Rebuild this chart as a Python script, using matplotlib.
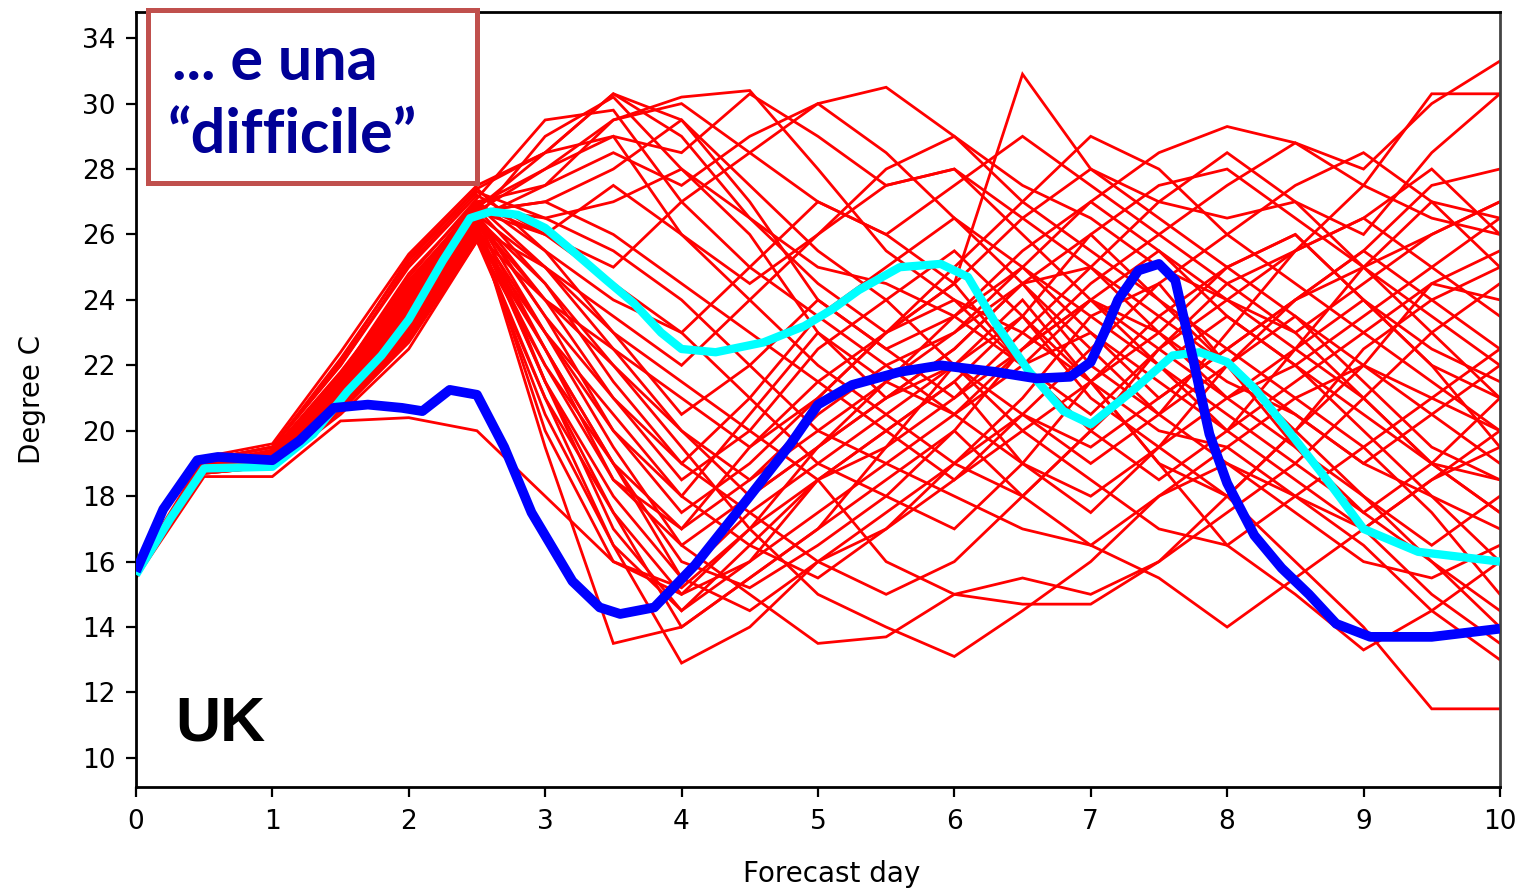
import matplotlib.pyplot as plt
from matplotlib.patches import Rectangle

# ----------------------------
# Data
# ----------------------------
# ensemble members are stored every 12 h (0, 0.5, ... 10 days)
days = [i * 0.5 for i in range(21)]

members = [
    [15.7, 19.0, 19.3, 21.5, 24.0, 26.8, 28.5, 30.3, 29.5, 27.0, 24.0, 22.5, 23.5, 25.0, 27.0, 28.5, 29.3, 28.8, 28.0, 30.0, 31.3],
    [15.6, 18.8, 19.1, 21.0, 23.5, 26.5, 29.0, 30.2, 28.0, 26.0, 23.0, 21.0, 22.5, 24.5, 22.0, 20.5, 23.0, 25.5, 27.5, 30.3, 30.3],
    [15.7, 18.9, 19.4, 21.8, 24.5, 27.0, 27.5, 29.5, 30.2, 30.4, 28.0, 25.5, 24.0, 23.0, 21.5, 23.0, 25.0, 26.0, 24.0, 22.0, 21.0],
    [15.8, 19.1, 19.5, 22.0, 25.0, 27.2, 26.0, 25.0, 27.0, 28.5, 30.0, 30.5, 29.0, 27.5, 26.5, 25.0, 24.0, 25.5, 26.5, 28.0, 26.0],
    [15.6, 18.7, 18.9, 20.5, 22.5, 25.8, 22.0, 19.0, 16.0, 15.2, 16.5, 18.0, 20.0, 22.5, 24.0, 23.0, 21.0, 19.5, 18.0, 16.0, 14.5],
    [15.7, 18.9, 19.2, 21.2, 23.8, 26.2, 21.5, 17.0, 14.5, 16.0, 18.5, 20.0, 21.5, 19.0, 17.5, 19.5, 22.0, 24.0, 25.0, 27.0, 26.5],
    [15.7, 19.0, 19.3, 21.4, 24.2, 26.6, 23.5, 20.0, 17.5, 19.0, 21.0, 23.0, 24.5, 30.9, 28.0, 27.0, 26.5, 27.0, 25.0, 23.5, 22.0],
    [15.6, 18.8, 19.0, 20.8, 23.0, 26.0, 21.0, 16.5, 12.9, 14.0, 16.0, 17.5, 19.0, 21.0, 23.5, 22.0, 20.0, 18.5, 17.0, 15.0, 13.5],
    [15.7, 18.9, 19.1, 21.0, 23.2, 26.3, 19.5, 13.5, 14.0, 15.5, 17.0, 19.5, 22.0, 24.0, 21.5, 19.0, 18.0, 20.0, 22.5, 24.0, 25.0],
    [15.5, 18.6, 18.6, 20.3, 20.4, 20.0, 18.0, 16.0, 15.0, 17.0, 19.5, 21.0, 22.5, 24.5, 25.0, 23.0, 21.5, 20.5, 19.0, 18.0, 17.0],
    [15.7, 19.0, 19.4, 21.6, 24.6, 26.9, 28.0, 29.0, 26.0, 24.0, 22.0, 20.5, 19.0, 18.0, 20.0, 22.5, 24.0, 23.0, 21.0, 19.0, 18.5],
    [15.6, 18.8, 19.1, 21.1, 23.6, 26.4, 24.0, 22.0, 19.5, 17.0, 15.0, 14.0, 13.1, 14.5, 16.0, 18.0, 19.0, 17.5, 16.0, 15.5, 16.5],
    [15.7, 19.1, 19.5, 22.2, 25.2, 27.4, 25.5, 23.0, 21.5, 20.0, 18.5, 20.0, 21.5, 23.5, 26.0, 27.5, 28.0, 26.5, 25.0, 23.0, 21.0],
    [15.7, 18.9, 19.2, 21.3, 24.0, 26.7, 27.0, 28.0, 29.5, 27.5, 25.5, 24.0, 22.0, 20.0, 18.5, 17.0, 16.5, 18.0, 19.5, 21.0, 22.5],
    [15.6, 18.8, 19.0, 20.9, 23.1, 26.1, 22.5, 18.5, 16.5, 15.0, 13.5, 13.7, 15.0, 15.5, 15.0, 16.0, 17.5, 19.0, 21.0, 23.0, 24.5],
    [15.7, 19.0, 19.3, 21.5, 24.3, 26.8, 24.5, 21.5, 19.0, 21.0, 23.5, 25.0, 26.5, 24.5, 22.5, 20.5, 19.0, 18.0, 17.0, 18.5, 20.0],
    [15.7, 18.9, 19.2, 21.2, 23.7, 26.5, 23.0, 19.5, 16.5, 18.0, 19.5, 21.5, 23.5, 25.5, 27.0, 25.5, 23.5, 22.0, 20.5, 19.0, 17.5],
    [15.6, 18.7, 18.9, 20.6, 22.8, 25.9, 22.5, 19.0, 15.5, 17.5, 19.0, 20.5, 22.0, 23.5, 21.0, 19.5, 18.0, 16.0, 14.0, 11.5, 11.5],
    [15.8, 19.2, 19.6, 22.4, 25.4, 27.5, 28.5, 30.3, 29.0, 26.5, 24.5, 23.0, 25.0, 27.0, 29.0, 28.0, 26.0, 24.5, 23.0, 21.5, 20.0],
    [15.7, 19.0, 19.3, 21.4, 24.1, 26.6, 25.0, 23.5, 22.0, 24.0, 26.0, 27.5, 28.0, 26.0, 24.0, 22.5, 21.0, 22.0, 23.5, 25.0, 26.5],
    [15.6, 18.8, 19.1, 21.0, 23.4, 26.3, 21.5, 18.0, 15.5, 14.5, 16.0, 17.0, 18.5, 20.0, 21.5, 23.5, 25.0, 26.0, 24.0, 22.0, 19.5],
    [15.7, 18.9, 19.2, 21.3, 23.9, 26.7, 26.0, 24.5, 23.0, 21.0, 19.0, 18.0, 17.0, 19.0, 21.5, 19.0, 16.5, 15.0, 13.3, 14.5, 16.0],
    [15.7, 19.0, 19.4, 21.7, 24.7, 27.1, 29.5, 29.8, 27.0, 25.0, 23.5, 22.0, 20.5, 22.5, 24.5, 26.0, 24.5, 23.0, 24.5, 26.0, 27.0],
    [15.6, 18.8, 19.0, 20.7, 22.9, 26.0, 20.5, 16.5, 14.5, 16.5, 18.5, 16.0, 15.0, 14.7, 14.7, 16.0, 18.0, 20.0, 22.0, 24.5, 25.5],
    [15.7, 19.0, 19.3, 21.5, 24.4, 26.9, 25.0, 22.5, 20.0, 18.5, 20.5, 22.0, 23.0, 25.0, 23.0, 21.0, 22.5, 24.0, 25.5, 24.0, 22.5],
    [15.7, 18.9, 19.2, 21.2, 23.8, 26.5, 27.5, 28.5, 27.5, 29.0, 30.0, 28.5, 26.5, 25.0, 23.5, 24.5, 26.0, 27.5, 28.5, 27.0, 25.0],
    [15.6, 18.8, 19.1, 21.0, 23.3, 26.2, 23.0, 20.5, 18.0, 16.5, 15.5, 17.0, 19.0, 20.5, 22.5, 24.5, 22.0, 19.5, 17.5, 16.0, 14.0],
    [15.7, 19.1, 19.5, 22.0, 25.1, 27.3, 26.5, 25.5, 24.0, 22.0, 20.0, 21.5, 23.0, 24.5, 26.0, 24.0, 22.0, 20.5, 19.0, 20.5, 22.0],
    [15.7, 18.9, 19.2, 21.3, 23.9, 26.6, 24.0, 21.0, 18.5, 20.0, 22.5, 24.0, 25.5, 23.5, 21.5, 20.0, 19.5, 21.0, 22.0, 21.0, 20.0],
    [15.6, 18.8, 19.0, 20.8, 23.1, 26.1, 22.0, 18.5, 17.0, 18.5, 20.0, 19.0, 18.0, 17.0, 16.5, 15.5, 14.0, 15.5, 17.0, 18.5, 19.5],
    [15.7, 19.0, 19.3, 21.4, 24.2, 26.7, 28.0, 29.5, 30.0, 28.5, 27.0, 26.0, 27.5, 29.0, 27.5, 26.0, 27.5, 28.8, 27.5, 26.5, 26.0],
    [15.7, 18.9, 19.2, 21.1, 23.6, 26.4, 22.5, 19.0, 17.0, 19.5, 21.5, 20.0, 18.5, 20.5, 19.5, 21.0, 22.5, 21.0, 19.5, 17.5, 15.0],
    [15.6, 18.7, 18.9, 20.6, 22.7, 25.8, 21.0, 17.5, 15.0, 16.0, 17.5, 19.0, 20.5, 22.0, 24.0, 25.5, 24.0, 22.5, 21.0, 19.0, 17.5],
    [15.7, 19.0, 19.4, 21.7, 24.8, 27.0, 25.5, 24.0, 23.0, 25.0, 27.0, 26.0, 24.5, 22.0, 20.0, 18.5, 20.0, 21.5, 23.0, 24.5, 24.0],
    [15.7, 18.9, 19.2, 21.2, 23.7, 26.5, 23.5, 21.0, 19.0, 17.5, 16.0, 15.0, 16.0, 18.0, 20.0, 22.0, 23.5, 22.0, 20.0, 18.0, 16.0],
    [15.6, 18.8, 19.1, 20.9, 23.2, 26.2, 25.0, 23.0, 20.5, 22.0, 24.0, 22.5, 21.0, 22.5, 24.0, 22.0, 20.5, 19.0, 17.5, 19.0, 21.0],
    [15.7, 19.0, 19.3, 21.5, 24.3, 26.8, 26.5, 27.0, 28.0, 26.5, 25.0, 24.5, 23.5, 22.0, 23.0, 21.5, 20.0, 22.5, 25.0, 26.0, 27.0],
    [15.8, 19.1, 19.5, 22.1, 25.3, 27.4, 28.5, 29.0, 28.5, 30.3, 29.0, 27.5, 28.0, 26.5, 25.0, 27.0, 28.5, 27.0, 26.0, 28.5, 30.3],
    [15.7, 18.9, 19.2, 21.3, 23.9, 26.6, 21.5, 17.5, 14.0, 15.5, 17.0, 18.5, 20.0, 18.0, 16.5, 18.0, 19.5, 18.0, 16.5, 14.5, 13.0],
    [15.6, 18.8, 19.0, 20.8, 23.0, 26.0, 24.0, 22.5, 21.0, 19.5, 21.0, 23.0, 24.5, 26.5, 28.0, 26.5, 25.0, 23.5, 22.0, 20.5, 19.0],
    [15.7, 19.0, 19.3, 21.4, 24.1, 26.7, 27.0, 26.0, 24.5, 23.0, 21.5, 23.0, 24.0, 22.0, 20.5, 22.5, 24.5, 25.5, 26.5, 25.0, 23.5],
    [15.7, 18.9, 19.1, 21.1, 23.5, 26.3, 20.0, 16.0, 15.2, 17.0, 18.5, 19.5, 21.0, 23.0, 25.0, 23.5, 22.0, 20.0, 18.0, 16.5, 18.0],
    [15.6, 18.8, 19.0, 20.7, 22.9, 25.9, 23.0, 20.0, 18.0, 20.5, 23.0, 21.5, 20.5, 19.0, 18.0, 19.5, 21.0, 22.5, 24.0, 22.5, 21.5],
    [15.7, 19.0, 19.3, 21.6, 24.5, 26.9, 26.0, 27.5, 26.0, 24.5, 26.0, 28.0, 29.0, 27.0, 25.5, 24.0, 22.5, 24.0, 25.5, 27.5, 28.0],
    [15.7, 18.9, 19.2, 21.2, 23.8, 26.5, 24.5, 22.0, 20.0, 18.0, 19.5, 21.0, 22.0, 20.5, 19.0, 20.5, 22.0, 23.5, 21.5, 19.5, 18.5],
]

# control forecast (cyan)
ctrl_days = [0.0, 0.25, 0.5, 1.0, 1.3, 1.55, 1.8, 2.0, 2.25, 2.45, 2.6, 2.8, 3.0, 3.2, 3.45, 3.65, 3.85,
             4.0, 4.25, 4.6, 4.9, 5.1, 5.3, 5.6, 5.9, 6.1, 6.3, 6.55, 6.8, 7.0, 7.3, 7.6, 7.8, 8.0, 8.2,
             8.45, 8.75, 9.0, 9.4, 10.0]
ctrl_temp = [15.6, 17.3, 18.85, 18.9, 19.9, 21.2, 22.3, 23.4, 25.2, 26.5, 26.7, 26.6, 26.2, 25.5, 24.6,
             23.9, 23.0, 22.5, 22.4, 22.7, 23.2, 23.7, 24.3, 25.0, 25.1, 24.7, 23.3, 21.8, 20.6, 20.2,
             21.2, 22.3, 22.4, 22.1, 21.3, 20.0, 18.4, 17.0, 16.3, 16.0]

# observation (blue)
obs_days = [0.0, 0.2, 0.45, 0.6, 1.0, 1.2, 1.45, 1.7, 1.95, 2.1, 2.3, 2.5, 2.7, 2.9, 3.2, 3.4, 3.55, 3.8,
            4.1, 4.5, 4.8, 5.0, 5.25, 5.6, 5.9, 6.3, 6.6, 6.85, 7.0, 7.1, 7.2, 7.35, 7.5, 7.62, 7.75, 7.87,
            8.0, 8.2, 8.4, 8.6, 8.8, 9.05, 9.5, 10.0]
obs_temp = [15.7, 17.6, 19.1, 19.2, 19.1, 19.7, 20.7, 20.8, 20.7, 20.6, 21.25, 21.1, 19.5, 17.5, 15.4,
            14.6, 14.4, 14.6, 15.9, 18.0, 19.6, 20.8, 21.4, 21.8, 22.0, 21.8, 21.6, 21.65, 22.1, 23.0,
            24.0, 24.9, 25.1, 24.6, 22.2, 19.9, 18.4, 16.8, 15.8, 15.0, 14.1, 13.7, 13.7, 13.95]

y_ticks = [10, 12, 14, 16, 18, 20, 22, 24, 26, 28, 30, 32]
y_tick_labels = ["10", "12", "14", "16", "18", "20", "22", "24", "26", "28", "30", "34"]
x_ticks = list(range(11))


# ----------------------------
# Figure
# ----------------------------
fig = plt.figure(figsize=(15.26, 8.9), dpi=100)
ax = fig.add_axes([0.0891, 0.1157, 0.8938, 0.8708])

for m in members:
    ax.plot(days, m, color="red", lw=2.0, solid_joinstyle="miter", zorder=2)

ax.plot(ctrl_days, ctrl_temp, color="cyan", lw=6.0, solid_capstyle="butt",
        solid_joinstyle="round", zorder=3)
ax.plot(obs_days, obs_temp, color="#0000ff", lw=7.0, solid_capstyle="butt",
        solid_joinstyle="round", zorder=4)

ax.set_xlim(0, 10)
ax.set_ylim(9.11, 32.8)
ax.set_xticks(x_ticks)
ax.set_yticks(y_ticks)
ax.set_yticklabels(y_tick_labels)
ax.tick_params(axis="both", direction="out", length=7, width=1.6, labelsize=19, colors="black")
ax.tick_params(axis="y", pad=8)
ax.tick_params(axis="x", pad=9)
for s in ax.spines.values():
    s.set_linewidth(2.0)
    s.set_color("black")
ax.spines["right"].set_color("#444444")

ax.set_xlabel("Forecast day", fontsize=20, labelpad=18, x=0.51)
ax.set_ylabel("Degree C", fontsize=20, labelpad=26)

ax.text(0.029, 0.06, "UK", transform=ax.transAxes, fontsize=45, fontweight="bold",
        family="Liberation Sans", color="black", zorder=6)

# ----------------------------
# Annotation box
# ----------------------------
box = Rectangle((148 / 1526, 1 - 183 / 890), 329 / 1526, 173 / 890, transform=fig.transFigure,
                facecolor="white", edgecolor="#C0504D", lw=3.6, zorder=10)
fig.patches.append(box)
fig.text(172 / 1526, 1 - 80 / 890, "... e una", fontsize=44, fontweight="bold", family="Lato",
         color="#000096", va="baseline", zorder=11)
fig.text(168 / 1526, 1 - 153 / 890, "\u201cdifficile\u201d", fontsize=44, fontweight="bold",
         family="Lato", color="#000096", va="baseline", zorder=11)

fig.savefig("out.png", dpi=100)
